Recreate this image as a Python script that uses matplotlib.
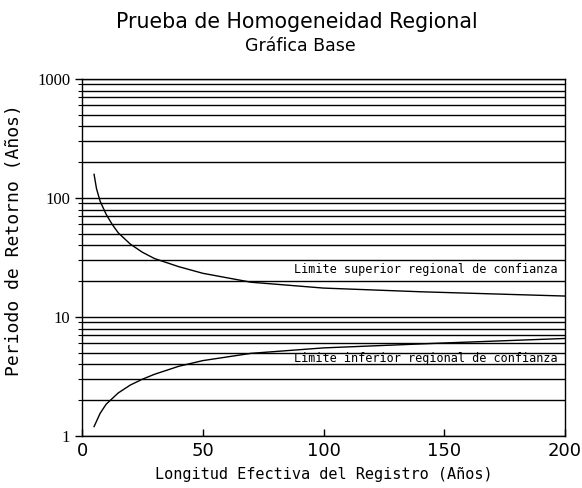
import matplotlib
matplotlib.use("Agg")
import matplotlib.pyplot as plt
from matplotlib.ticker import LogLocator, FixedLocator, NullFormatter

# Data
upper_x = [5, 6, 7.5, 10, 12.5, 15, 20, 25, 30, 40, 50, 70, 100, 140, 200]
upper_y = [158, 120, 94, 73, 60, 51, 41, 35, 31, 26.5, 23.3, 19.6, 17.5, 16.3, 15.0]
lower_x = [5, 7.5, 10, 15, 20, 25, 30, 40, 50, 70, 100, 150, 200]
lower_y = [1.2, 1.55, 1.85, 2.3, 2.68, 3.0, 3.3, 3.85, 4.3, 4.95, 5.5, 6.05, 6.6]

x_ticks = [0, 50, 100, 150, 200]
y_ticks = [1, 10, 100, 1000]
y_ticklabels = ["1", "10", "100", "1000"]

title = "Prueba de Homogeneidad Regional"
subtitle = "Gráfica Base"
xlabel = "Longitud Efectiva del Registro (Años)"
ylabel = "Periodo de Retorno (Años)"
upper_label = "Limite superior regional de confianza"
lower_label = "Limite inferior regional de confianza"

fig = plt.figure(figsize=(5.82, 4.88), dpi=100)
ax = fig.add_axes([82/582, 1-436/488, (565-82)/582, (436-79)/488])

ax.set_yscale("log")
ax.set_xlim(0, 200)
ax.set_ylim(1, 1000)

ax.yaxis.set_major_locator(FixedLocator(y_ticks))
ax.set_yticklabels(y_ticklabels, family="Liberation Serif", fontsize=12)
ax.yaxis.set_minor_locator(LogLocator(base=10, subs=range(2, 10)))
ax.yaxis.set_minor_formatter(NullFormatter())
ax.grid(which="both", axis="y", color="black", lw=1.0)
ax.tick_params(axis="y", which="major", direction="out", length=5, width=1)
ax.tick_params(axis="y", which="minor", direction="out", length=3, width=0.8)

ax.set_xticks(x_ticks)
ax.set_xticklabels([str(v) for v in x_ticks], fontsize=13, family="DejaVu Sans")
ax.tick_params(axis="x", direction="in", length=5, width=1, pad=4)

for s in ax.spines.values():
    s.set_linewidth(1.0)
    s.set_color("black")

ax.plot(upper_x, upper_y, color="black", lw=1.0)
ax.plot(lower_x, lower_y, color="black", lw=1.0)

ax.text(197, 25, upper_label, family="DejaVu Sans Mono", fontsize=8.5,
        ha="right", va="center")
ax.text(197, 4.45, lower_label, family="DejaVu Sans Mono", fontsize=8.5,
        ha="right", va="center")

ax.set_xlabel(xlabel, family="DejaVu Sans Mono", fontsize=11)
ax.xaxis.set_label_coords(0.5, -(475-436)/357, transform=ax.transAxes)
ax.set_ylabel(ylabel, family="DejaVu Sans Mono", fontsize=13)
ax.yaxis.set_label_coords(-(82-14)/483, (436-240)/357, transform=ax.transAxes)
ax.xaxis.label.set_va("center")
ax.yaxis.label.set_va("center")

fig.text(297/582, 1-22/488, title, family="DejaVu Sans",
         fontsize=14.8, ha="center", va="center")
fig.text(300/582, 1-46/488, subtitle, family="DejaVu Sans",
         fontsize=12.5, ha="center", va="center")

fig.savefig("out.png", dpi=100)
